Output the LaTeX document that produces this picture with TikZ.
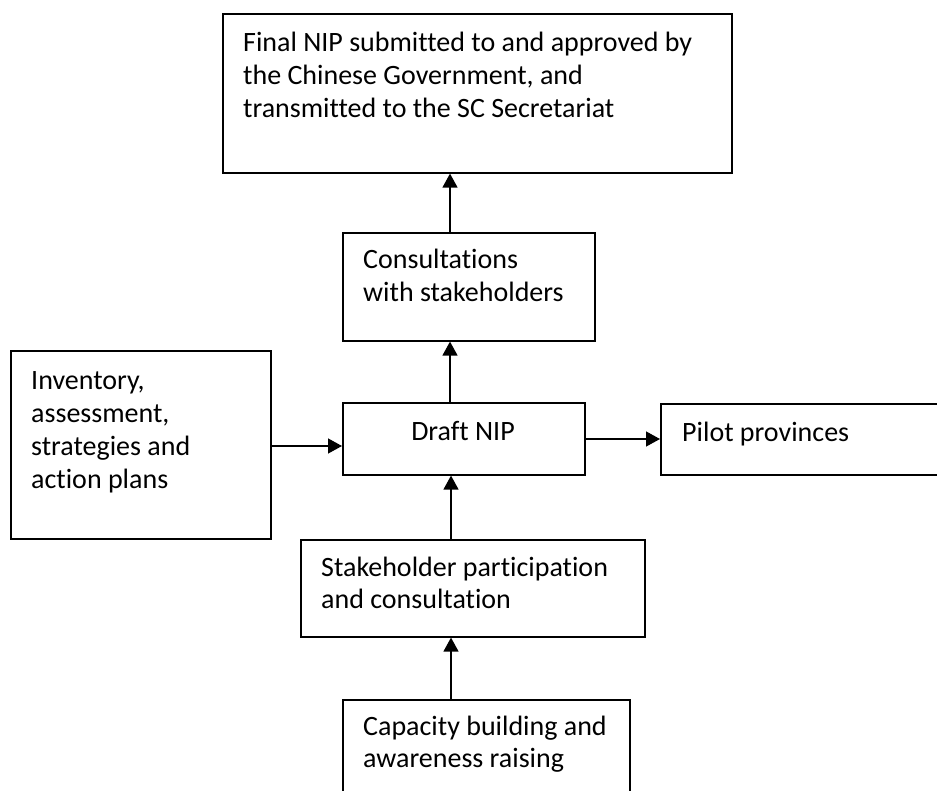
\documentclass[tikz,border=0pt]{standalone}
\usepackage{fontspec}
\setmainfont[Ligatures={NoCommon}]{Carlito}
\usetikzlibrary{arrows.meta}
\newcommand\txtlines[1]{\vtop{\halign{##\hfil\cr#1\crcr}}}
\begin{document}
\begin{tikzpicture}[x=1pt,y=-1pt,
 box/.style={draw,line width=1.6pt,inner sep=0pt,anchor=north west},
 txt/.style={anchor=base west,inner sep=0pt,font=\fontsize{28}{32.7}\selectfont},
 arr/.style={line width=1.4pt,-{Triangle[length=14pt,width=15pt]}}]
\useasboundingbox (0,0) rectangle (937,791);
\clip (0,0) rectangle (937,791);
% boxes
\node[box,minimum width=509pt,minimum height=159pt] (top) at (222,13) {};
\node[box,minimum width=252pt,minimum height=108pt] (cons) at (342,232) {};
\node[box,minimum width=260pt,minimum height=188pt] (inv) at (10,350) {};
\node[box,minimum width=242pt,minimum height=72pt] (draft) at (342,402) {};
\node[box,minimum width=300pt,minimum height=71pt] (pilot) at (660,403) {};
\node[box,minimum width=344pt,minimum height=97pt] (stake) at (300,539) {};
\node[box,minimum width=287pt,minimum height=110pt] (cap) at (342,699) {};
% texts
\node[txt] (topt) at (243,52) {\txtlines{Final NIP submitted to and approved by\cr the Chinese Government, and\cr transmitted to the SC Secretariat}};
\node[txt] (const) at (363,269) {\txtlines{Consultations\cr with stakeholders}};
\node[txt] (invt) at (31,390) {\txtlines{Inventory,\cr assessment,\cr strategies and\cr action plans}};
\node[txt,anchor=base] (draftt) at (463,440) {Draft NIP};
\node[txt] (pilott) at (682,441) {Pilot provinces};
\node[txt] (staket) at (321,576) {\txtlines{Stakeholder participation\cr and consultation}};
\node[txt] (capt) at (363,735) {\txtlines{Capacity building and\cr awareness raising}};
% connectors
\coordinate (vx) at (450,0);
\coordinate (vy) at (451,0);
\coordinate (hy1) at (0,446);
\coordinate (hy2) at (0,439);
\draw[arr] (cons.north -| vx) -- (top.south -| vx);
\draw[arr] (draft.north -| vx) -- (cons.south -| vx);
\draw[arr] (stake.north -| vy) -- (draft.south -| vy);
\draw[arr] (cap.north -| vy) -- (stake.south -| vy);
\draw[arr] (inv.east |- hy1) -- (draft.west |- hy1);
\draw[arr] (draft.east |- hy2) -- (pilot.west |- hy2);
\end{tikzpicture}
\end{document}
